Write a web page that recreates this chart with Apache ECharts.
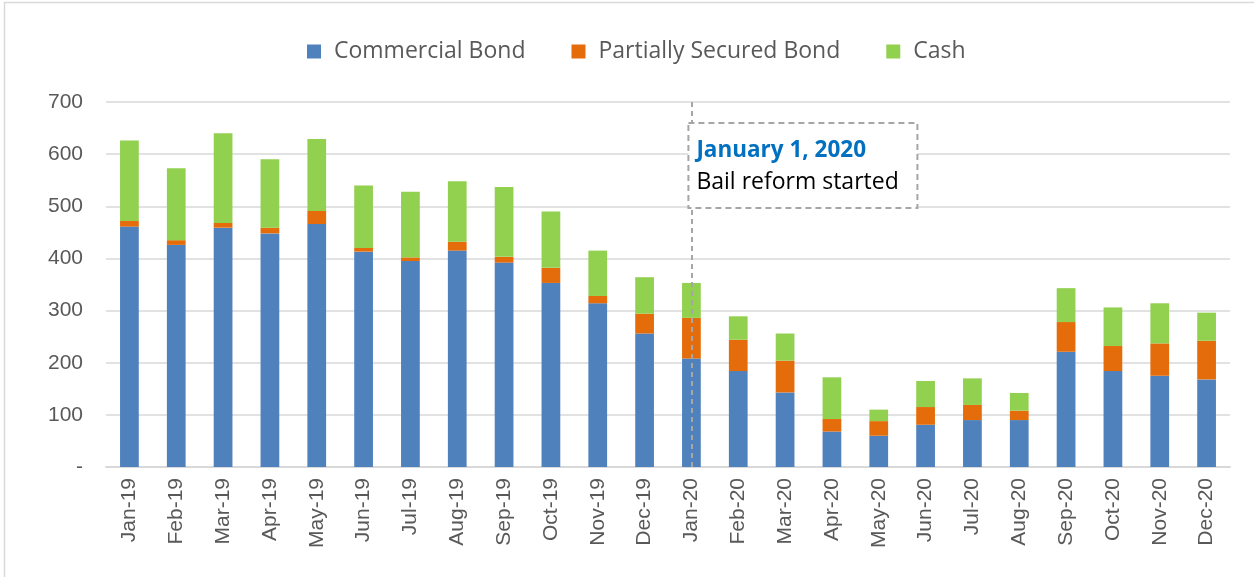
<!DOCTYPE html>
<html>
<head>
<meta charset="utf-8">
<script src="https://cdn.jsdelivr.net/npm/echarts@6/dist/echarts.min.js"></script>
<style>
html,body{margin:0;padding:0;background:#fff;}
#main{width:1254px;height:577px;}
</style>
</head>
<body>
<div id="main"></div>
<script>
const categories = ['Jan-19','Feb-19','Mar-19','Apr-19','May-19','Jun-19','Jul-19','Aug-19','Sep-19','Oct-19','Nov-19','Dec-19',
  'Jan-20','Feb-20','Mar-20','Apr-20','May-20','Jun-20','Jul-20','Aug-20','Sep-20','Oct-20','Nov-20','Dec-20'];
const commercialBond = [461,426,459,448,466,413,395,415,392,353,314,256,208,184,143,68,60,81,90,90,221,184,175,168];
const partiallySecuredBond = [11,9,9,11,25,7,7,17,11,29,14,38,78,60,61,24,28,34,29,18,57,48,62,74];
const cash = [154,138,172,131,138,120,126,116,134,108,87,70,67,45,52,80,22,50,51,34,65,74,77,54];
const yTicks = [0,100,200,300,400,500,600,700];
const annotationCategory = 'Jan-20';
const annotationTitle = 'January 1, 2020';
const annotationText = 'Bail reform started';

const chart = echarts.init(document.getElementById('main'));
const axisFont = 'Liberation Sans';
const option = {
  animation: false,
  backgroundColor: '#fff',
  legend: {
    top: 35,
    left: 302,
    itemWidth: 14,
    itemHeight: 14,
    itemGap: 46,
    icon: 'rect',
    textStyle: {fontFamily: 'Open Sans', fontSize: 23, color: '#595959', padding: [0,0,0,8]},
    data: ['Commercial Bond','Partially Secured Bond','Cash']
  },
  grid: {left: 106, right: 24, top: 102, bottom: 110},
  xAxis: {
    type: 'category',
    data: categories,
    axisLine: {lineStyle: {color: '#d9d9d9', width: 2}},
    axisTick: {show: false},
    axisLabel: {rotate: 90, fontFamily: axisFont, fontSize: 21, color: '#595959', margin: 11, interval: 0}
  },
  yAxis: {
    type: 'value',
    min: yTicks[0],
    max: yTicks[yTicks.length-1],
    interval: 100,
    axisLine: {show: false},
    axisTick: {show: false},
    splitLine: {lineStyle: {color: '#d9d9d9', width: 1.5}},
    axisLabel: {fontFamily: axisFont, fontSize: 21, color: '#595959', margin: 23,
      formatter: v => v === 0 ? '-' : String(v)}
  },
  series: [
    {name: 'Commercial Bond', type: 'bar', stack: 'total', data: commercialBond, barWidth: '40%',
      itemStyle: {color: '#4F81BD'},
      markLine: {
        silent: true, symbol: ['none','none'], label: {show: false},
        lineStyle: {color: '#a6a6a6', type: [5,4], width: 2},
        data: [{xAxis: annotationCategory}],
        z: 10
      }
    },
    {name: 'Partially Secured Bond', type: 'bar', stack: 'total', data: partiallySecuredBond, itemStyle: {color: '#E46C0A'}},
    {name: 'Cash', type: 'bar', stack: 'total', data: cash, itemStyle: {color: '#92D050'}}
  ]
};
chart.setOption(option);

const px = chart.convertToPixel({xAxisIndex: 0}, annotationCategory) - 3;
chart.setOption({
  graphic: [
    {type: 'rect', z: 100, left: 2, top: 0, shape: {x: 0, y: 0, width: 1260, height: 590},
      style: {fill: 'none', stroke: '#d9d9d9', lineWidth: 1.5}, silent: true},
    {type: 'rect', z: 100, shape: {x: px, y: 123, width: 229, height: 85},
      style: {fill: '#fff', stroke: '#a6a6a6', lineWidth: 2, lineDash: [6,4]}},
    {type: 'text', z: 101, left: px + 8, top: 139,
      style: {text: annotationTitle, fontFamily: 'Open Sans', fontWeight: 'bold', fontSize: 22.5, fill: '#0070C0'}},
    {type: 'text', z: 101, left: px + 8, top: 171,
      style: {text: annotationText, fontFamily: 'Open Sans', fontSize: 23, fill: '#000'}}
  ]
});
</script>
</body>
</html>
